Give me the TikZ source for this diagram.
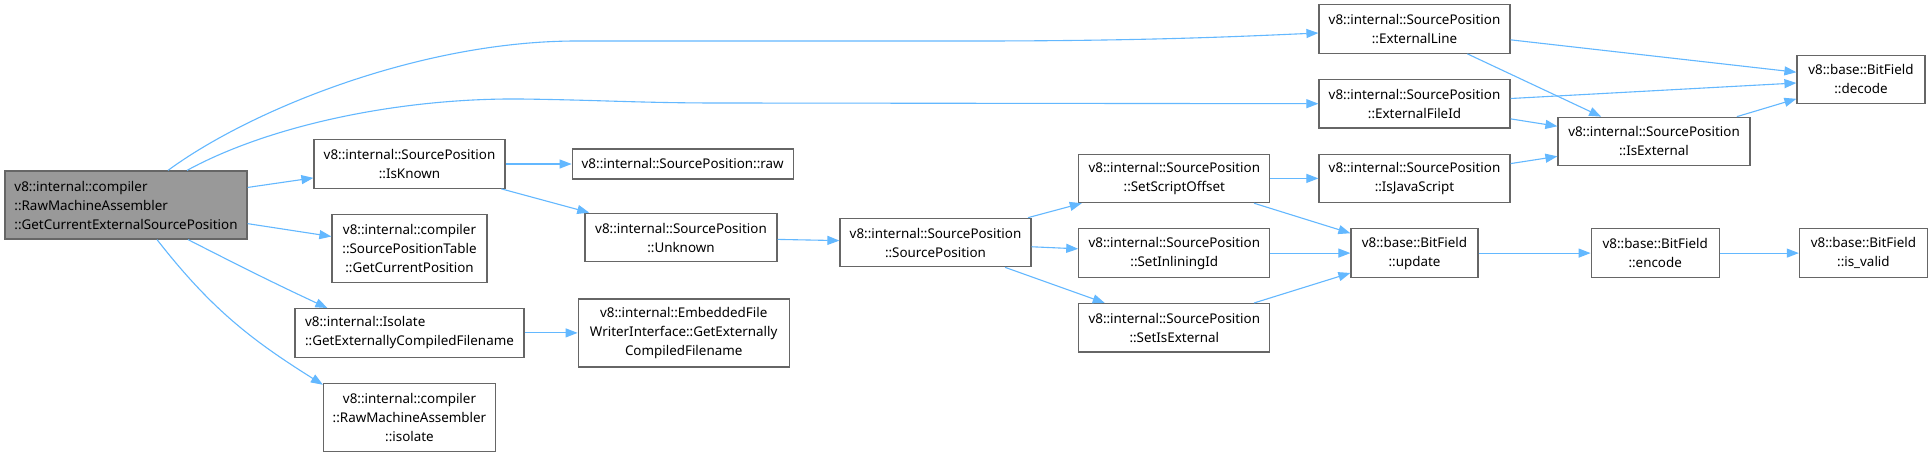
\documentclass[tikz,border=0pt]{standalone}
\usepackage{fontspec}
\setmainfont{Noto Sans}
\usepackage{xcolor}
\usepackage{tikz}
\usetikzlibrary{arrows.meta,positioning}

\definecolor{edgeblue}{HTML}{63B8FF}
\definecolor{boxline}{HTML}{666666}
\definecolor{mainfill}{HTML}{999999}

\begin{document}
\begin{tikzpicture}[
      x=1pt, y=1pt,
      node distance=25pt,
      fn/.style={rectangle, draw=boxline, fill=white, line width=1.2pt, inner sep=2pt, minimum height=48.5pt, align=center, font=\fontsize{13.4}{19}\selectfont},
      tall/.style={minimum height=68pt},
      flat/.style={minimum height=30pt},
      edge/.style={-{Triangle[length=12pt,width=9pt]}, draw=edgeblue, line width=1.1pt}
    ]
    \fill[white] (0,0) rectangle (1930,-452);
    \useasboundingbox (0,0) rectangle (1930,-452);

    \node[fn, tall, fill=mainfill, minimum width=242pt, align=left] (main) at (126,-205) {v8::internal::compiler\\::RawMachineAssembler\\::GetCurrentExternalSourcePosition};

    \node[fn, minimum width=191pt] (isknown) at (409.5,-164) {v8::internal::SourcePosition\\::IsKnown};
    \node[fn, tall, minimum width=155pt, below=of isknown] (sptable) {v8::internal::compiler\\::SourcePositionTable\\::GetCurrentPosition};
    \node[fn, minimum width=229pt, align=left, below=of sptable] (isolatefn) {v8::internal::Isolate\\::GetExternallyCompiledFilename};
    \node[fn, tall, minimum width=172pt, below=of isolatefn] (rmaisolate) {v8::internal::compiler\\::RawMachineAssembler\\::isolate};

    \node[fn, flat, minimum width=221pt, right=66pt of isknown] (raw) {v8::internal::SourcePosition::raw};
    \node[fn, minimum width=192pt] (unknown) at (681,-237.5) {v8::internal::SourcePosition\\::Unknown};
    \node[fn, tall, minimum width=211pt, right=53pt of isolatefn] (embedded) {v8::internal::EmbeddedFile\\WriterInterface::GetExternally\\CompiledFilename};

    \node[fn, minimum width=191pt] (srcpos) at (935.5,-242.5) {v8::internal::SourcePosition\\::SourcePosition};

    \node[fn, minimum width=191pt] (extline) at (1414.5,-29) {v8::internal::SourcePosition\\::ExternalLine};
    \node[fn, minimum width=191pt, below=of extline] (extfileid) {v8::internal::SourcePosition\\::ExternalFileId};
    \node[fn, minimum width=191pt, below=of extfileid] (isjs) {v8::internal::SourcePosition\\::IsJavaScript};
    \node[fn, minimum width=127pt, below=of isjs] (update) {v8::base::BitField\\::update};

    \node[fn, minimum width=191pt, left=48pt of isjs] (setscript) {v8::internal::SourcePosition\\::SetScriptOffset};
    \node[fn, minimum width=191pt, below=of setscript] (setinlining) {v8::internal::SourcePosition\\::SetInliningId};
    \node[fn, minimum width=191pt, below=of setinlining] (setisext) {v8::internal::SourcePosition\\::SetIsExternal};

    \node[fn, minimum width=192pt] (isext) at (1654,-141.5) {v8::internal::SourcePosition\\::IsExternal};
    \node[fn, minimum width=128pt, right=112pt of update] (encode) {v8::base::BitField\\::encode};
    \node[fn, minimum width=128pt, right=79pt of encode] (isvalid) {v8::base::BitField\\::is\_valid};
    \node[fn, minimum width=128pt] (decode) at (1861,-79.5) {v8::base::BitField\\::decode};

    \draw[edge] ([xshift=42pt]main.north) .. controls (250,-110) and (420,-41) .. (577,-41) -- (975,-41) .. controls (1150,-41) and (1250,-36) .. ([yshift=-4pt]extline.west);
    \draw[edge] ([xshift=61pt]main.north) .. controls (270,-125) and (400,-98) .. (520,-99) .. controls (600,-100) and (640,-103) .. (720,-103) -- (extfileid.west);
    \draw[edge] (main) -- (isknown);
    \draw[edge] (main) -- (sptable);
    \draw[edge] ([xshift=62pt]main.south) to[out=-27, in=155] ([xshift=33pt]isolatefn.north west);
    \draw[edge] ([xshift=31pt]main.south) to[out=-52, in=148] ([yshift=-2pt]rmaisolate.north west);
    \draw[edge] (isknown) -- (raw);
    \draw[edge] (isknown) -- (unknown);
    \draw[edge] (isolatefn) -- (embedded);
    \draw[edge] (unknown) -- (srcpos);
    \draw[edge] (srcpos) -- (setscript);
    \draw[edge] (srcpos) -- (setinlining);
    \draw[edge] (srcpos) -- (setisext);
    \draw[edge] (setscript) -- (isjs);
    \draw[edge] (setscript) -- (update);
    \draw[edge] (setinlining) -- (update);
    \draw[edge] (setisext) -- (update);
    \draw[edge] (update) -- (encode);
    \draw[edge] (encode) -- (isvalid);
    \draw[edge] (extline) -- (decode);
    \draw[edge] (extline) -- (isext);
    \draw[edge] (extfileid) -- (decode);
    \draw[edge] (extfileid) -- (isext);
    \draw[edge] (isjs) -- (isext);
    \draw[edge] (isext) -- (decode);
  \end{tikzpicture}
\end{document}
